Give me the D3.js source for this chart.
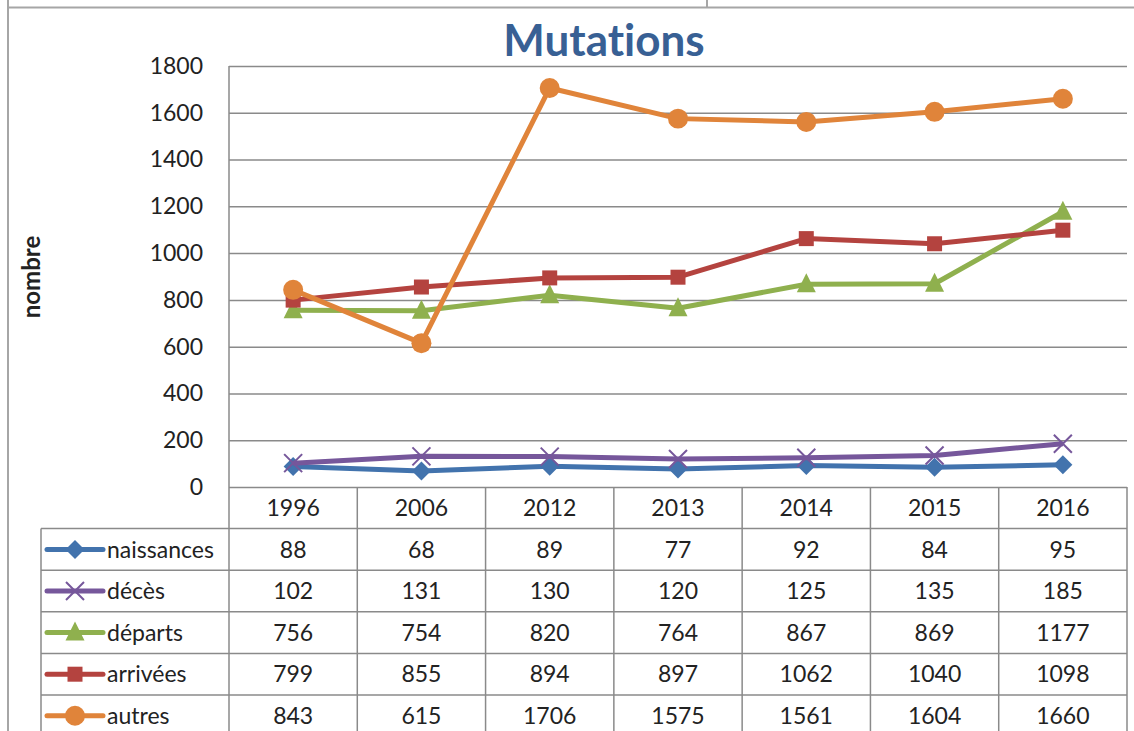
<!DOCTYPE html>
<html>
<head>
<meta charset="utf-8">
<script src="https://cdn.jsdelivr.net/npm/d3@7"></script>
<style>
  body { margin: 0; background: #fff; }
  svg { display: block; font-family: Lato, "Open Sans", sans-serif; font-variant-ligatures: none; }
</style>
</head>
<body>
<div id="chart"></div>
<script>
var years = ["1996", "2006", "2012", "2013", "2014", "2015", "2016"];
var seriesNames = ["naissances", "décès", "départs", "arrivées", "autres"];
var naissances = [88, 68, 89, 77, 92, 84, 95];
var deces = [102, 131, 130, 120, 125, 135, 185];
var departs = [756, 754, 820, 764, 867, 869, 1177];
var arrivees = [799, 855, 894, 897, 1062, 1040, 1098];
var autres = [843, 615, 1706, 1575, 1561, 1604, 1660];
var yTicks = [0, 200, 400, 600, 800, 1000, 1200, 1400, 1600, 1800];

var colors = ["#4273ad", "#76579b", "#8fb04e", "#b4433f", "#e0843a"];
var shapes = ["diamond", "x", "triangle", "square", "circle"];
var values = [naissances, deces, departs, arrivees, autres];

var width = 1134, height = 731;
var plotLeft = 229, plotRight = 1127, plotTop = 66, plotBottom = 487;
var rowH = 41.6, legendLeft = 41;
var gridCol = "#8a8a8a", borderCol = "#a6a6a6";

var svg = d3.select("#chart").append("svg")
  .attr("width", width)
  .attr("height", height);

// outer frame of the sheet
svg.append("line").attr("x1", 8).attr("x2", width).attr("y1", 7.5).attr("y2", 7.5)
  .attr("stroke", borderCol).attr("stroke-width", 2);
svg.append("line").attr("x1", 8).attr("x2", 8).attr("y1", 0).attr("y2", height)
  .attr("stroke", borderCol).attr("stroke-width", 2);
svg.append("line").attr("x1", 707).attr("x2", 707).attr("y1", 0).attr("y2", 7)
  .attr("stroke", borderCol).attr("stroke-width", 2);

var x = d3.scaleBand().domain(years).range([plotLeft, plotRight]);
var y = d3.scaleLinear().domain([0, 1800]).range([plotBottom, plotTop]);

// y axis with gridlines
var yAxis = svg.append("g")
  .attr("transform", "translate(" + plotLeft + ",0)")
  .call(d3.axisLeft(y).tickValues(yTicks).tickFormat(d3.format("d"))
    .tickSize(-(plotRight - plotLeft)).tickPadding(26));
yAxis.select(".domain").remove();
yAxis.selectAll(".tick line").attr("stroke", gridCol).attr("stroke-width", 1.5);
yAxis.selectAll(".tick text")
  .attr("font-size", 23)
  .attr("fill", "#222")
  .attr("font-family", "Lato, sans-serif");

svg.append("line").attr("x1", plotLeft).attr("x2", plotLeft).attr("y1", plotTop).attr("y2", height)
  .attr("stroke", gridCol).attr("stroke-width", 1.5);

// title and axis title
svg.append("text")
  .attr("x", 604).attr("y", 56)
  .attr("text-anchor", "middle")
  .attr("font-size", 44)
  .attr("font-weight", "bold")
  .attr("fill", "#386094")
  .text("Mutations");

svg.append("text")
  .attr("transform", "translate(40,277) rotate(-90)")
  .attr("text-anchor", "middle")
  .attr("font-size", 24)
  .attr("font-weight", "bold")
  .attr("fill", "#222")
  .text("nombre");

// data table
var table = svg.append("g");
var tableTop = plotBottom + rowH;
var tableBottom = height + 10;

table.selectAll(".hline")
  .data(d3.range(seriesNames.length))
  .enter().append("line")
  .attr("x1", legendLeft).attr("x2", plotRight)
  .attr("y1", function(i) { return tableTop + i * rowH; })
  .attr("y2", function(i) { return tableTop + i * rowH; })
  .attr("stroke", gridCol).attr("stroke-width", 1.5);

table.append("line").attr("x1", legendLeft).attr("x2", legendLeft)
  .attr("y1", tableTop).attr("y2", tableBottom)
  .attr("stroke", gridCol).attr("stroke-width", 1.5);

table.selectAll(".vline")
  .data(years.slice(1))
  .enter().append("line")
  .attr("x1", function(d) { return x(d); })
  .attr("x2", function(d) { return x(d); })
  .attr("y1", plotBottom).attr("y2", tableBottom)
  .attr("stroke", gridCol).attr("stroke-width", 1.5);

table.append("line").attr("x1", plotRight).attr("x2", plotRight)
  .attr("y1", plotBottom).attr("y2", tableBottom)
  .attr("stroke", gridCol).attr("stroke-width", 1.5);

table.selectAll(".year")
  .data(years)
  .enter().append("text")
  .attr("x", function(d) { return x(d) + x.bandwidth() / 2; })
  .attr("y", plotBottom + rowH / 2)
  .attr("dy", "0.36em")
  .attr("text-anchor", "middle")
  .attr("font-size", 23)
  .attr("fill", "#222")
  .text(function(d) { return d; });

function marker(shape) {
  if (shape == "diamond") return "M0,-9.5L9.5,0L0,9.5L-9.5,0Z";
  if (shape == "x") return "M-9,-9L9,9M-9,9L9,-9";
  if (shape == "triangle") return "M0,-11L9.5,8L-9.5,8Z";
  if (shape == "square") return "M-7.5,-7.5H7.5V7.5H-7.5Z";
  return d3.symbol(d3.symbolCircle, 314)();
}

function drawMarker(sel, i) {
  sel.attr("d", marker(shapes[i]))
    .attr("fill", shapes[i] == "x" ? "none" : colors[i])
    .attr("stroke", shapes[i] == "x" ? colors[i] : "none")
    .attr("stroke-width", 2);
}

seriesNames.forEach(function(name, i) {
  var rowY = tableTop + i * rowH + rowH / 2;
  var g = table.append("g");
  g.append("line")
    .attr("x1", 47).attr("x2", 103)
    .attr("y1", rowY).attr("y2", rowY)
    .attr("stroke", colors[i]).attr("stroke-width", 5)
    .attr("stroke-linecap", "round");
  g.append("path")
    .attr("transform", "translate(75," + rowY + ")")
    .call(drawMarker, i);
  g.append("text")
    .attr("x", 107).attr("y", rowY)
    .attr("dy", "0.36em")
    .attr("font-size", 23)
    .attr("fill", "#222")
    .text(name);
  g.selectAll(".val")
    .data(values[i])
    .enter().append("text")
    .attr("x", function(d, j) { return x(years[j]) + x.bandwidth() / 2; })
    .attr("y", rowY)
    .attr("dy", "0.36em")
    .attr("text-anchor", "middle")
    .attr("font-size", 23)
    .attr("fill", "#222")
    .text(function(d) { return d; });
});

// lines and markers, orange drawn last
var line = d3.line()
  .x(function(d, j) { return x(years[j]) + x.bandwidth() / 2; })
  .y(function(d) { return y(d); });

values.forEach(function(vals, i) {
  var g = svg.append("g");
  g.append("path")
    .datum(vals)
    .attr("d", line)
    .attr("fill", "none")
    .attr("stroke", colors[i])
    .attr("stroke-width", 5)
    .attr("stroke-linejoin", "round");
  g.selectAll(".pt")
    .data(vals)
    .enter().append("path")
    .attr("transform", function(d, j) {
      return "translate(" + (x(years[j]) + x.bandwidth() / 2) + "," + y(d) + ")";
    })
    .call(drawMarker, i);
});
</script>
</body>
</html>
